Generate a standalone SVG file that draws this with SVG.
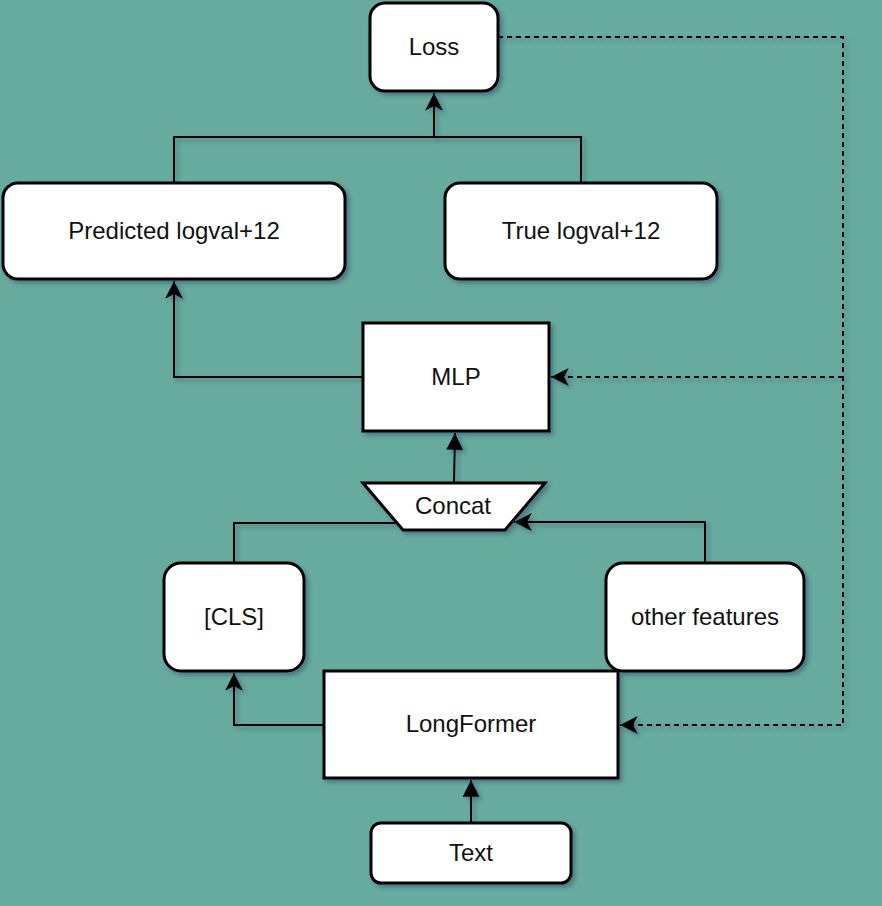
<svg xmlns="http://www.w3.org/2000/svg" width="882" height="906" viewBox="0 0 882 906">
<defs>
<filter id="sh" filterUnits="userSpaceOnUse" x="0" y="0" width="882" height="906">
<feDropShadow dx="3" dy="3" stdDeviation="2" flood-color="#2a3a5a" flood-opacity="0.45"/>
</filter>
<marker id="classic" markerUnits="userSpaceOnUse" markerWidth="22" markerHeight="22" viewBox="-19 -10 21 20" refX="0" refY="0" orient="auto">
<path d="M0,0 L-17,-8.5 L-12.5,0 L-17,8.5 Z" fill="#000"/>
</marker>
<marker id="block" markerUnits="userSpaceOnUse" markerWidth="22" markerHeight="22" viewBox="-19 -10 21 20" refX="0" refY="0" orient="auto">
<path d="M0,0 L-16,-8 L-16,8 Z" fill="#000"/>
</marker>
</defs>
<style>
.node{fill:#fff;stroke:#000;stroke-width:3;filter:url(#sh)}
.lbl{font-family:"Liberation Sans",Arial,sans-serif;font-size:24px;fill:#111;text-anchor:middle}
.edge{fill:none;stroke:#000;stroke-width:2;filter:url(#sh)}
.dash{stroke-dasharray:5 4}
</style>
<rect x="0" y="0" width="882" height="906" fill="#67AB9F"/>
<g id="connectors">
<path class="edge" d="M174,183 V137 H434 V93" marker-end="url(#classic)"/>
<path class="edge" d="M581,183 V137 H434"/>
<path class="edge" d="M363,377 H174 V281" marker-end="url(#classic)"/>
<path class="edge" d="M454,483 L455,433" marker-end="url(#block)"/>
<path class="edge" d="M234,563 V523 H395"/>
<path class="edge" d="M705,563 V522 H514" marker-end="url(#classic)"/>
<path class="edge" d="M324,725 H234 V673" marker-end="url(#classic)"/>
<path class="edge" d="M471,823 V780" marker-end="url(#block)"/>
<path class="edge dash" d="M498,37 H843 V725 H620" marker-end="url(#classic)"/>
<path class="edge dash" d="M843,377 H551" marker-end="url(#classic)"/>
</g>
<g id="loss"><rect class="node" x="370" y="3" width="128" height="88" rx="15"/><text class="lbl" x="434" y="55">Loss</text></g>
<g id="predicted"><rect class="node" x="3" y="183" width="342" height="96" rx="15"/><text class="lbl" x="174" y="239">Predicted logval+12</text></g>
<g id="true"><rect class="node" x="445" y="183" width="272" height="96" rx="15"/><text class="lbl" x="581" y="239">True logval+12</text></g>
<g id="mlp"><rect class="node" x="363" y="323" width="186" height="108"/><text class="lbl" x="456" y="385">MLP</text></g>
<g id="concat"><path class="node" d="M363,483 H545 L505,530 H403 Z"/><text class="lbl" x="453" y="514">Concat</text></g>
<g id="cls"><rect class="node" x="164" y="563" width="140" height="108" rx="17"/><text class="lbl" x="234" y="625">[CLS]</text></g>
<g id="other"><rect class="node" x="606" y="563" width="198" height="108" rx="17"/><text class="lbl" x="705" y="625">other features</text></g>
<g id="longformer"><rect class="node" x="324" y="671" width="294" height="107"/><text class="lbl" x="471" y="732">LongFormer</text></g>
<g id="text"><rect class="node" x="371" y="823" width="200" height="60" rx="10"/><text class="lbl" x="471" y="861">Text</text></g>
</svg>
